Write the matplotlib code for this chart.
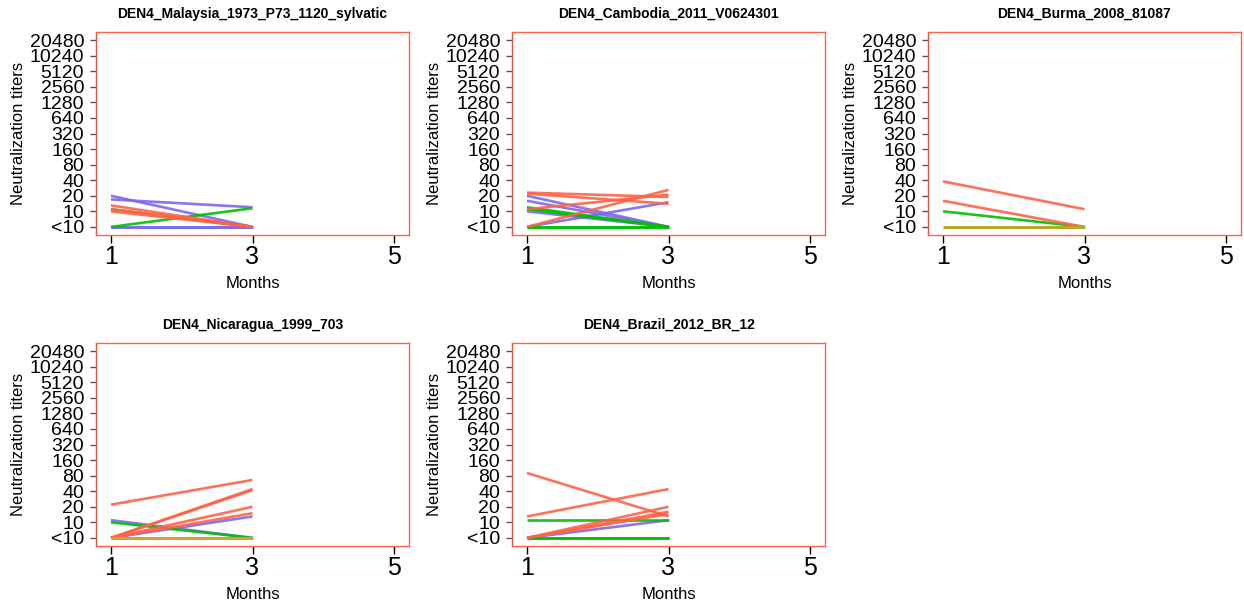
import numpy as np
import matplotlib
matplotlib.use('Agg')
import matplotlib.pyplot as plt

plt.rcParams['font.family'] = ['Liberation Sans', 'DejaVu Sans']

# titer values at month 1 and month 3 (5 means "<10")
months = [1, 3]
titles = ['DEN4_Malaysia_1973_P73_1120_sylvatic', 'DEN4_Cambodia_2011_V0624301',
          'DEN4_Burma_2008_81087', 'DEN4_Nicaragua_1999_703', 'DEN4_Brazil_2012_BR_12']

malaysia_red = [[13, 5], [10, 5], [11, 5]]
malaysia_green = [[11, 5], [5, 11.5]]
malaysia_purple = [[20, 5], [17, 12], [5, 5], [5, 5]]
malaysia_gold = []

cambodia_red = [[23, 19], [22, 14], [5, 26], [11, 21]]
cambodia_green = [[12, 5], [11, 5], [5, 5], [5, 5]]
cambodia_purple = [[20, 5], [16, 5], [10, 5], [5, 15]]
cambodia_gold = []

burma_red = [[38, 11], [16, 5]]
burma_green = [[10, 5]]
burma_purple = []
burma_gold = [[5, 5]]

nicaragua_red = [[22, 66], [5, 44], [5, 42], [5, 20], [5, 15]]
nicaragua_green = [[10, 5]]
nicaragua_purple = [[5, 13], [11, 5]]
nicaragua_gold = [[5, 5]]

brazil_red = [[90, 13], [13, 44], [5, 20], [5, 16], [5, 14.5]]
brazil_green = [[11, 11], [5, 5], [5, 5]]
brazil_purple = [[5, 11]]
brazil_gold = []

panels = [
    (malaysia_red, malaysia_green, malaysia_purple, malaysia_gold, '#B8A82A'),
    (cambodia_red, cambodia_green, cambodia_purple, cambodia_gold, '#B8A82A'),
    (burma_red, burma_green, burma_purple, burma_gold, '#B8A82A'),
    (nicaragua_red, nicaragua_green, nicaragua_purple, nicaragua_gold, '#D4A033'),
    (brazil_red, brazil_green, brazil_purple, brazil_gold, '#B8A82A'),
]

yticks = [5, 10, 20, 40, 80, 160, 320, 640, 1280, 2560, 5120, 10240, 20480]
ytick_labels = ['<10'] + [str(v) for v in yticks[1:]]
xticks = [1, 3, 5]

red = '#FF6347'
green = '#00BE00'
purple = '#7B68EE'
box_col = '#FF6347'

fig = plt.figure(figsize=(12.44, 6.05), dpi=100)
W, H = 1244, 605
lefts = [96, 512, 928]
tops = [32, 343]
aw, ah = 313, 203

for i, (title, data) in enumerate(zip(titles, panels)):
    r, c = divmod(i, 3)
    ax = fig.add_axes([lefts[c] / W, (H - tops[r] - ah) / H, aw / W, ah / H])
    reds, greens, purples, golds, gold_col = data
    for vals in purples:
        ax.plot(months, vals, color=purple, lw=1.9, alpha=0.9, solid_capstyle='butt')
    for vals in greens:
        ax.plot(months, vals, color=green, lw=1.9, alpha=0.9, solid_capstyle='butt')
    for vals in reds:
        ax.plot(months, vals, color=red, lw=1.9, alpha=0.9, solid_capstyle='butt')
    for vals in golds:
        ax.plot(months, vals, color=gold_col, lw=2.2, solid_capstyle='butt')

    ax.set_yscale('log', base=2)
    ax.set_ylim(5 / 2 ** 0.52, 20480 * 2 ** 0.52)
    ax.set_xlim(1 - 15 / 71, 5 + 15 / 71)
    ax.set_yticks(yticks)
    ax.set_yticklabels(ytick_labels)
    ax.minorticks_off()
    ax.set_xticks(xticks)
    ax.set_xticklabels([str(x) for x in xticks])
    ax.tick_params(axis='y', labelsize=14, length=4.5, width=1, color='#555555', pad=4)
    ax.tick_params(axis='x', labelsize=18, length=6, width=1, color='black', pad=1)
    for s in ax.spines.values():
        s.set_color(box_col)
        s.set_linewidth(1.0)
    ax.spines['left'].set_color('#D8553F')
    ax.set_title(title, fontsize=10, fontweight='bold', pad=10)
    ax.set_xlabel('Months', fontsize=12, labelpad=5)
    ax.set_ylabel('Neutralization titers', fontsize=12, labelpad=3)

fig.savefig('out.png', dpi=100)
